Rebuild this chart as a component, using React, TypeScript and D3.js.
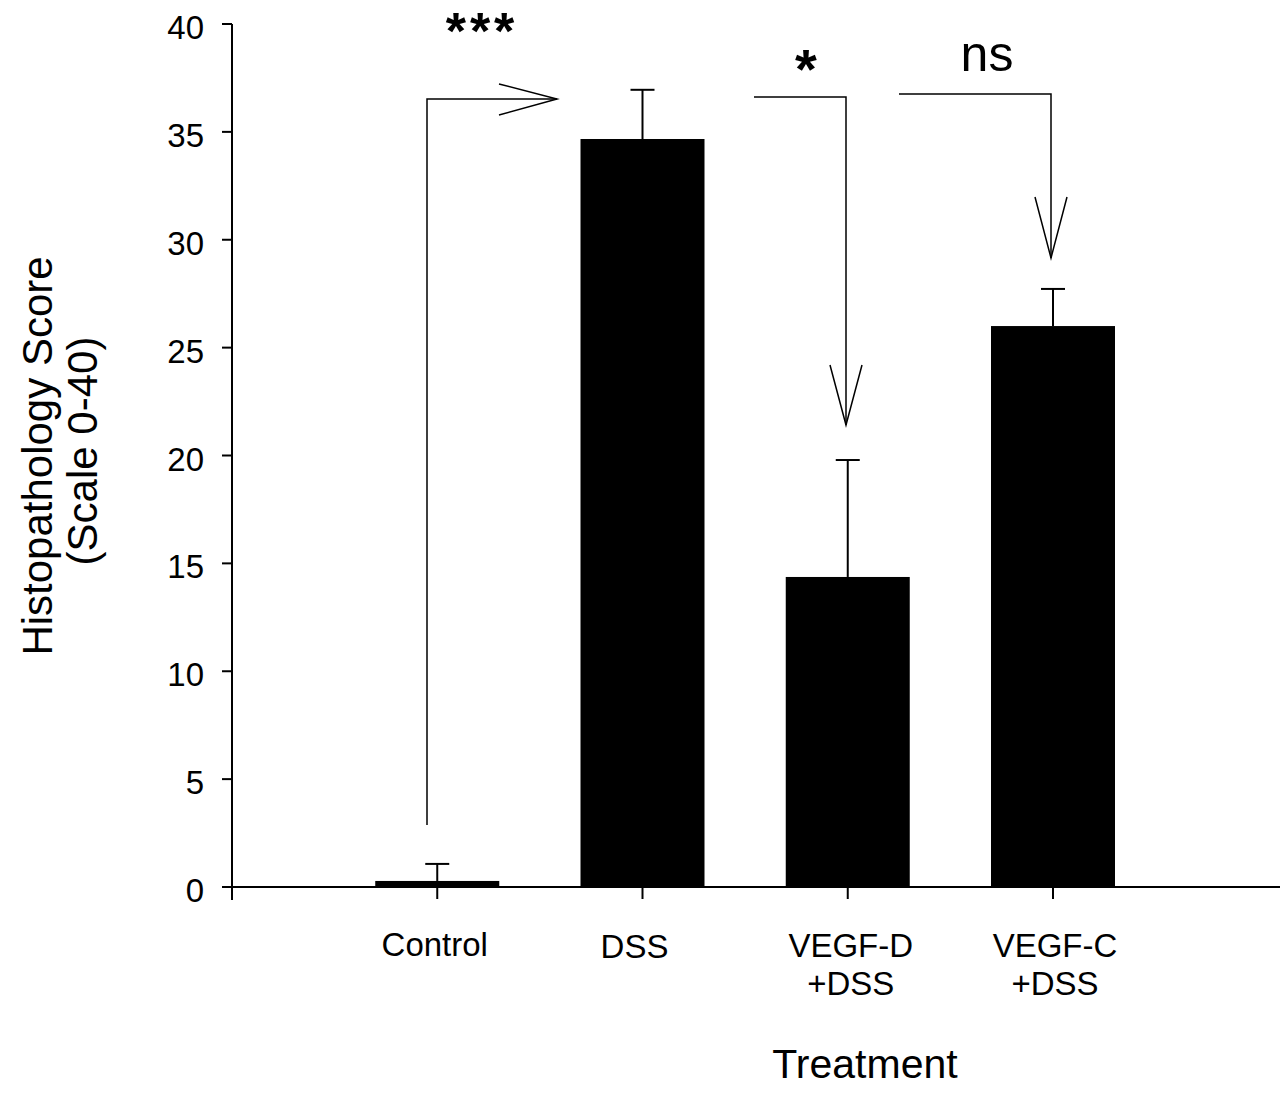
import React from "react";
import * as d3 from "d3";

const categories = ["Control", "DSS", "VEGF-D\n+DSS", "VEGF-C\n+DSS"];
const means = [0.28, 34.67, 14.37, 26.0];
const errors = [0.79, 2.28, 5.42, 1.72];
const yTicks = [0, 5, 10, 15, 20, 25, 30, 35, 40];

const W = 1287, H = 1095;
const axisX = 232, axisRight = 1280;
const y = d3.scaleLinear().domain([0, 40]).range([887, 24]);
const x = d3.scaleLinear().domain([-1, 3]).range([232, 1053]);
const barW = 124;
const font = "'Liberation Sans', Arial, sans-serif";
const labelShift = [-2.5, -8, 3, 2];
const labelBase = [956, 958, 957, 957];

export default function App() {
  const cx = (i: number) => x(i);
  return (
    <svg width={W} height={H} style={{ position: "absolute", left: 0, top: 0, background: "#fff" }} fontFamily={font}>
      {/* bars */}
      {means.map((m, i) => (
        <rect key={"b" + i} x={cx(i) - barW / 2} y={y(m)} width={barW} height={y(0) - y(m)} fill="#000" />
      ))}
      {/* error bars */}
      {means.map((m, i) => (
        <g key={"e" + i} stroke="#000" strokeWidth={2}>
          <line x1={cx(i)} x2={cx(i)} y1={y(m)} y2={y(m + errors[i])} />
          <line x1={cx(i) - 12} x2={cx(i) + 12} y1={y(m + errors[i])} y2={y(m + errors[i])} />
        </g>
      ))}
      {/* y axis */}
      <line x1={axisX} x2={axisX} y1={y(40)} y2={y(0) + 13} stroke="#000" strokeWidth={2} />
      {yTicks.map((t) => (
        <g key={"t" + t}>
          <line x1={axisX - 10} x2={axisX} y1={y(t)} y2={y(t)} stroke="#000" strokeWidth={2} />
          <text x={204} y={y(t) + 15} textAnchor="end" fontSize={33}>{t}</text>
        </g>
      ))}
      {/* x axis */}
      <line x1={axisX} x2={axisRight} y1={y(0)} y2={y(0)} stroke="#000" strokeWidth={2} />
      {categories.map((c, i) => (
        <line key={"xt" + i} x1={cx(i)} x2={cx(i)} y1={y(0)} y2={y(0) + 12} stroke="#000" strokeWidth={2} />
      ))}
      {categories.map((c, i) =>
        c.split("\n").map((line, j) => (
          <text key={"c" + i + j} x={cx(i) + labelShift[i]} y={labelBase[i] + j * 38} textAnchor="middle" fontSize={33}>{line}</text>
        ))
      )}
      {/* axis titles */}
      <text x={865} y={1078} textAnchor="middle" fontSize={41}>Treatment</text>
      <g transform="translate(0,455) rotate(-90)">
        <text x={-1} y={52} textAnchor="middle" fontSize={42}>Histopathology Score</text>
        <text x={4} y={97} textAnchor="middle" fontSize={42}>(Scale 0-40)</text>
      </g>
      {/* significance annotations */}
      <g stroke="#000" strokeWidth={1.5} fill="none">
        <polyline points="427,825 427,99 557,99" />
        <polyline points="499,84 557,99 499,115" />
        <polyline points="754,97 846,97 846,425" />
        <polyline points="830,365 846,425 862,365" />
        <polyline points="899,94 1051,94 1051,258" />
        <polyline points="1035,197 1051,258 1067,197" />
      </g>
      <text x={482} y={49} textAnchor="middle" fontSize={52} fontWeight="bold" letterSpacing={4}>***</text>
      <text x={806} y={88} textAnchor="middle" fontSize={56} fontWeight="bold">*</text>
      <text x={987} y={71} textAnchor="middle" fontSize={50}>ns</text>
    </svg>
  );
}
